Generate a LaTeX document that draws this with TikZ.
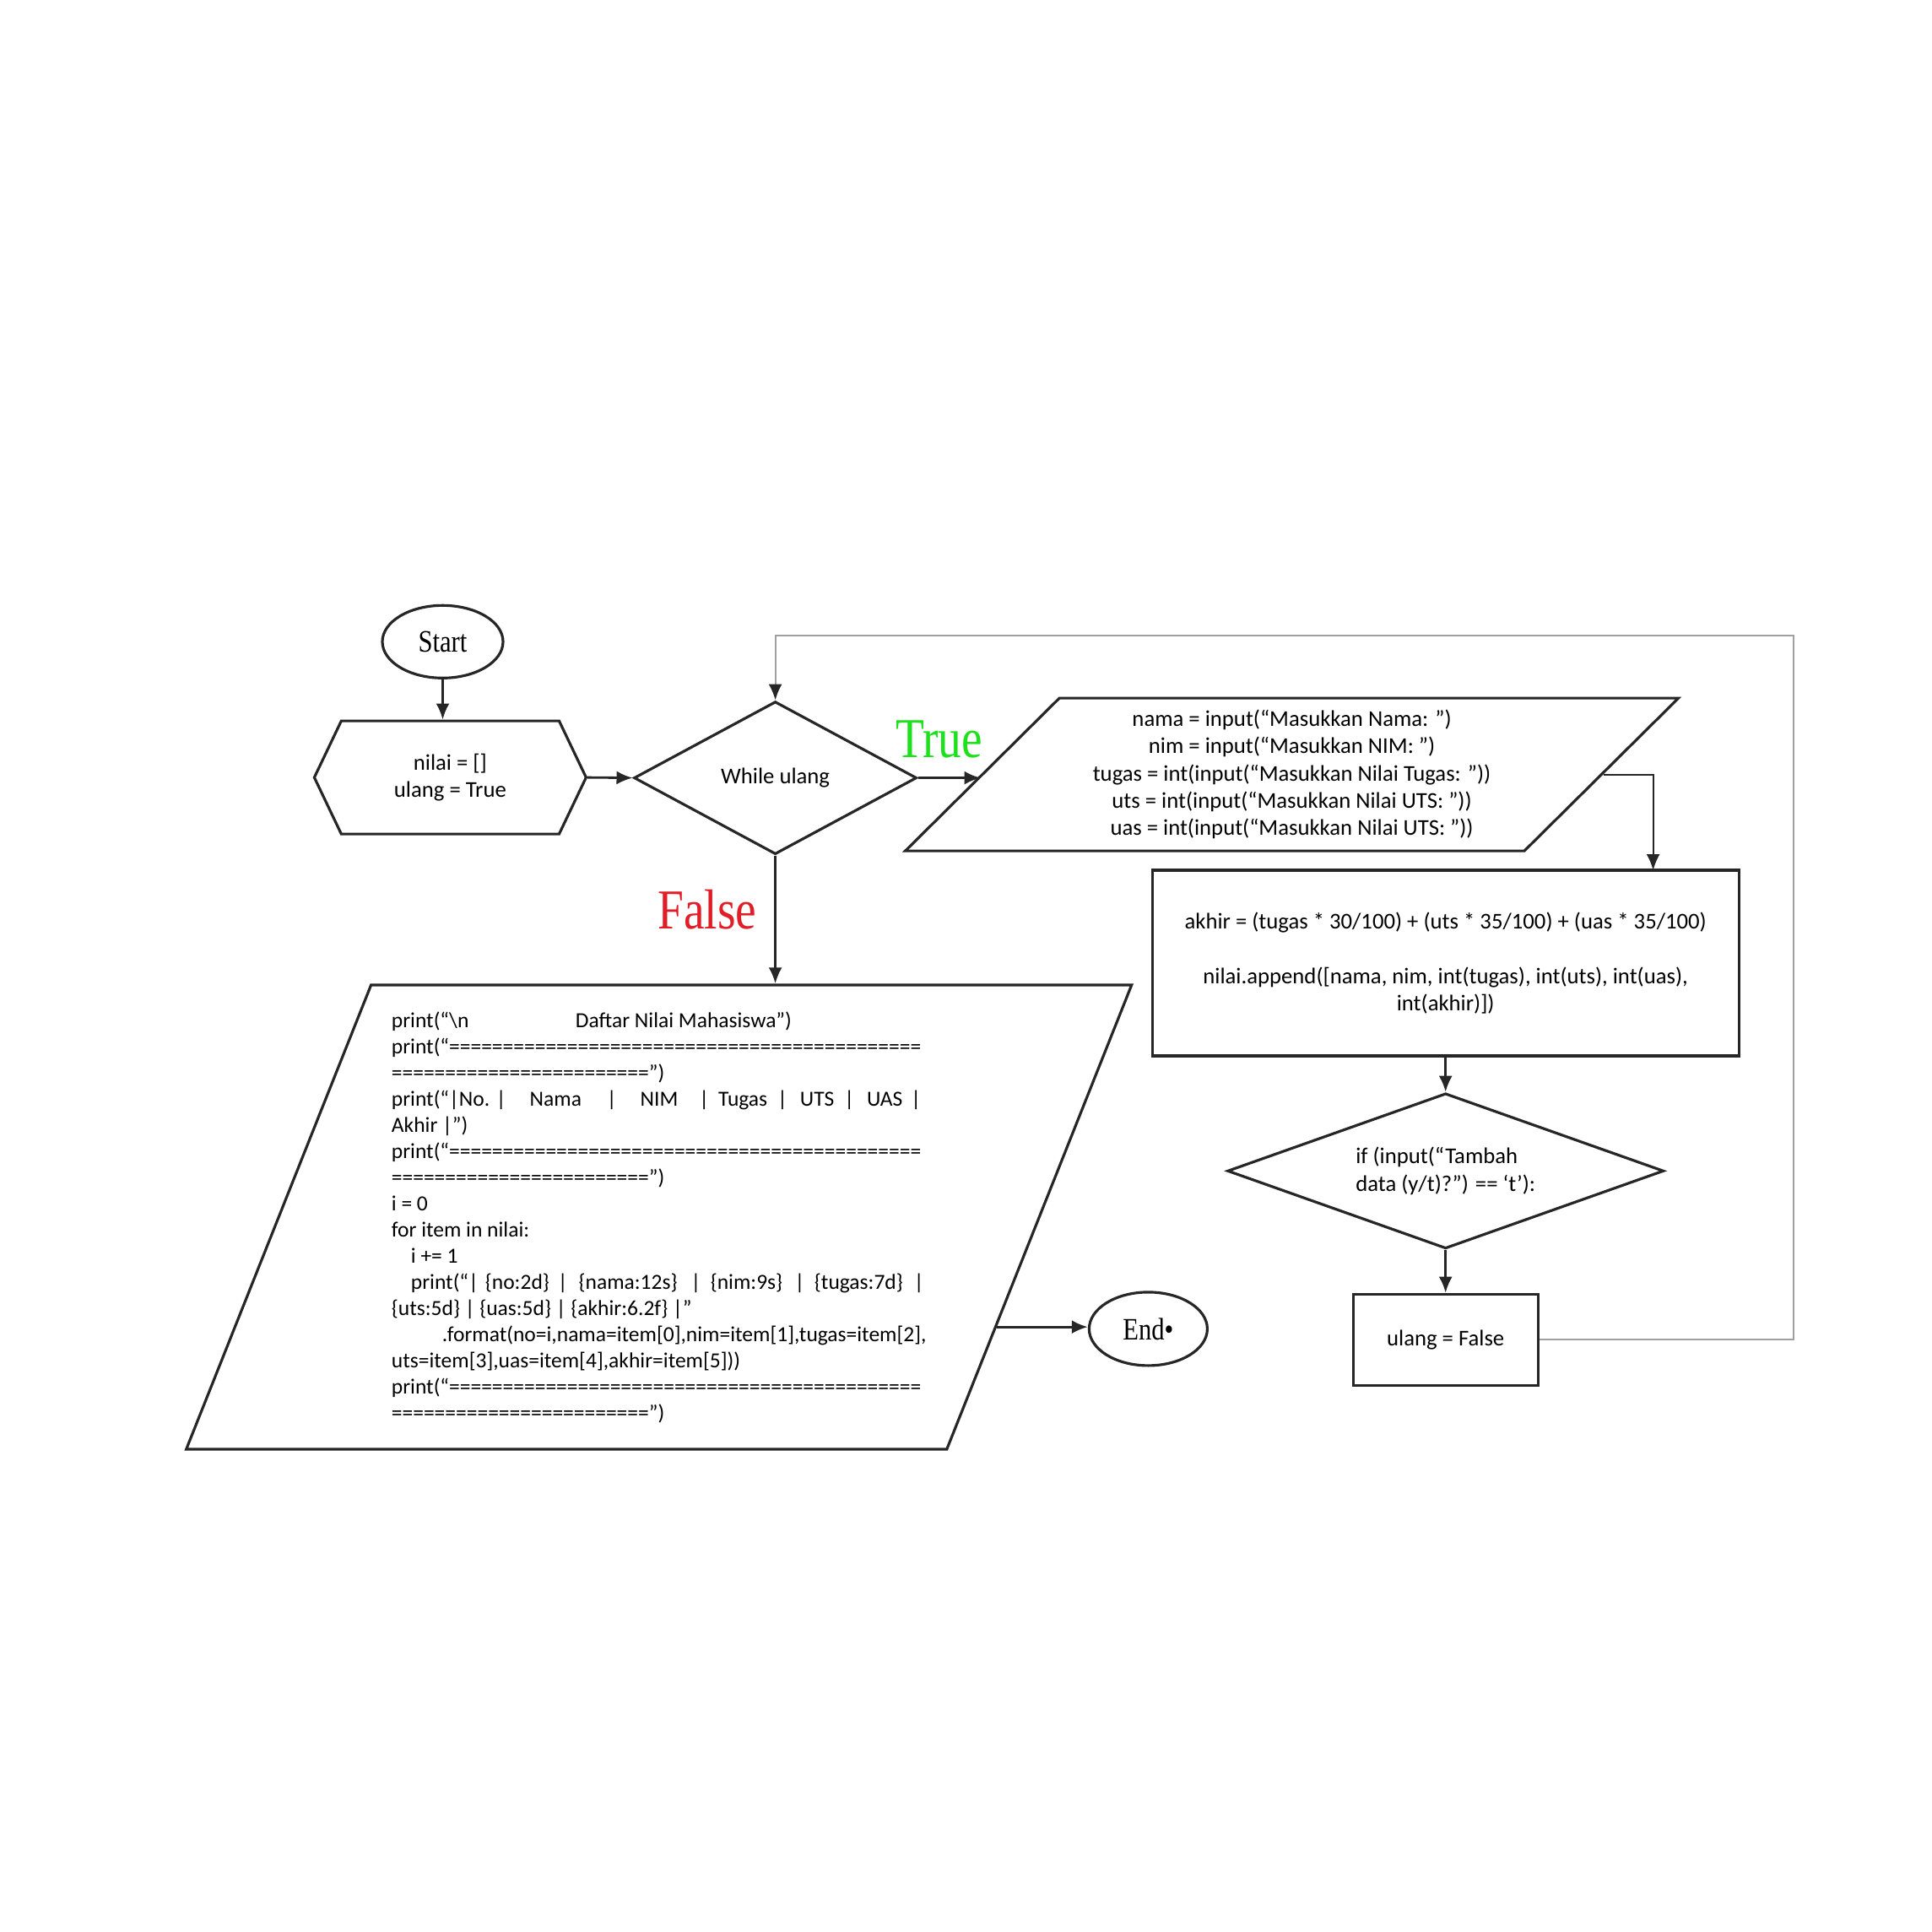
\documentclass[tikz,border=0pt]{standalone}
\usepackage{fontspec}
\setmainfont{Carlito}
\newfontfamily\labelfont[FakeStretch=0.83]{Liberation Serif}
\usetikzlibrary{shapes.geometric,shapes.symbols,arrows.meta}
\definecolor{truegreen}{RGB}{30,225,30}
\definecolor{falsered}{RGB}{225,30,40}
\definecolor{loopgray}{RGB}{160,160,160}

\begin{document}
\begin{tikzpicture}[>={Latex[length=1.9mm,width=1.6mm]}]
    \useasboundingbox (0,0) rectangle (22.89,-22.89);

    \begin{scope}[every node/.style={ellipse, draw=black!85, line width=0.9pt, inner sep=0pt, font=\labelfont\fontsize{10.5}{12}\selectfont}]
        \node[minimum width=1.43cm, minimum height=0.86cm] (start) at (5.245,-7.603) {Start};
        \node[minimum width=1.40cm, minimum height=0.87cm] (end) at (13.604,-15.744) {End•};
    \end{scope}

    \begin{scope}[every node/.style={draw=black!85, line width=0.9pt, inner sep=0pt, align=center, font=\fontsize{7.6}{9.2}\selectfont}]
        \node[signal, signal to=west and east, signal pointer angle=129, minimum width=3.22cm, minimum height=1.34cm] (init) at (5.334,-9.211) {nilai = []\\ulang = True};
        \node[diamond, minimum width=3.35cm, minimum height=1.81cm] (loop) at (9.186,-9.216) {While ulang};
        \node[trapezium, trapezium left angle=40, trapezium right angle=140, trapezium stretches body, minimum width=9.16cm, minimum height=1.81cm] (input) at (15.306,-9.176) {nama = input(“Masukkan Nama: ”)\\nim = input(“Masukkan NIM: ”)\\tugas = int(input(“Masukkan Nilai Tugas: ”))\\uts = int(input(“Masukkan Nilai UTS: ”))\\uas = int(input(“Masukkan Nilai UTS: ”))};
        \node[rectangle, minimum width=6.95cm, minimum height=2.20cm] (calc) at (17.127,-11.41) {akhir = (tugas * 30/100) + (uts * 35/100) + (uas * 35/100)\\[9.2pt]nilai.append([nama, nim, int(tugas), int(uts), int(uas),\\int(akhir)])};
        \node[diamond, aspect=2.8, minimum width=5.17cm, minimum height=1.84cm, align=left] (ask) at (17.127,-13.873) {if (input(“Tambah\\data (y/t)?”) == ‘t’):};
        \node[rectangle, minimum width=2.19cm, minimum height=1.08cm] (stop) at (17.127,-15.873) {ulang = False};
        \node[trapezium, trapezium left angle=65.8, trapezium right angle=114.2, trapezium stretches body, minimum width=11.2cm, minimum height=5.5cm, align=left, font=\fontsize{7.26}{8.82}\selectfont] (output) at (7.807,-14.42) {%
\makebox[2.18cm][l]{print(“\textbackslash n}Daftar Nilai Mahasiswa”)\\
print(“============================================\\
========================”)\\
print(“|No. |\hspace{0.28cm}Nama\hspace{0.3cm}|\hspace{0.28cm}NIM\hspace{0.25cm}|\hspace{0.11cm}Tugas\hspace{0.12cm}|\hspace{0.15cm}UTS\hspace{0.12cm}|\hspace{0.15cm}UAS\hspace{0.1cm}|\\
Akhir |”)\\
print(“============================================\\
========================”)\\
i = 0\\
for item in nilai:\\
\hspace{0.23cm}i += 1\\
\hspace{0.23cm}print(“|\hspace{0.08cm}\{no:2d\}\hspace{0.1cm}|\hspace{0.13cm}\{nama:12s\}\hspace{0.16cm}|\hspace{0.115cm}\{nim:9s\}\hspace{0.145cm}|\hspace{0.115cm}\{tugas:7d\}\hspace{0.13cm}|\\
\{uts:5d\} | \{uas:5d\} | \{akhir:6.2f\} |”\\
\hspace{0.6cm}.format(no=i,nama=item[0],nim=item[1],tugas=item[2],\\
uts=item[3],uas=item[4],akhir=item[5]))\\
print(“============================================\\
========================”)};
    \end{scope}

    \coordinate (calcin) at (19.586,-10.31);
    \coordinate (back) at (21.248,-7.534);

    \begin{scope}[every edge/.style={draw=black!85, line width=0.8pt}]
        \path [->] (start.south) edge (start.south |- init.north);
        \path [->] (init.east) edge (loop.west);
        \path [->] (loop.east) edge (loop.east -| input.west);
        \path [->] (loop.south) edge (loop.south |- output.north);
        \path [->] (calc.south) edge (ask.north);
        \path [->] (ask.south) edge (stop.north);
        \path [->] (output.-18.4) edge (output.-18.4 -| end.west);
        \draw [->, line width=0.6pt, black!85] (input.east) -| (calcin);
        \draw [-{Latex[length=1.9mm,width=1.6mm,color=black!85]}, line width=0.6pt, loopgray] (stop.east) -| (back) -| (loop.north);
        \node[text=truegreen, font=\labelfont\fontsize{19}{22}\selectfont] (truelabel) at (11.126,-8.758) {True};
        \node[text=falsered, font=\labelfont\fontsize{19}{22}\selectfont] (falselabel) at (8.38,-10.778) {False};
    \end{scope}
\end{tikzpicture}
\end{document}
